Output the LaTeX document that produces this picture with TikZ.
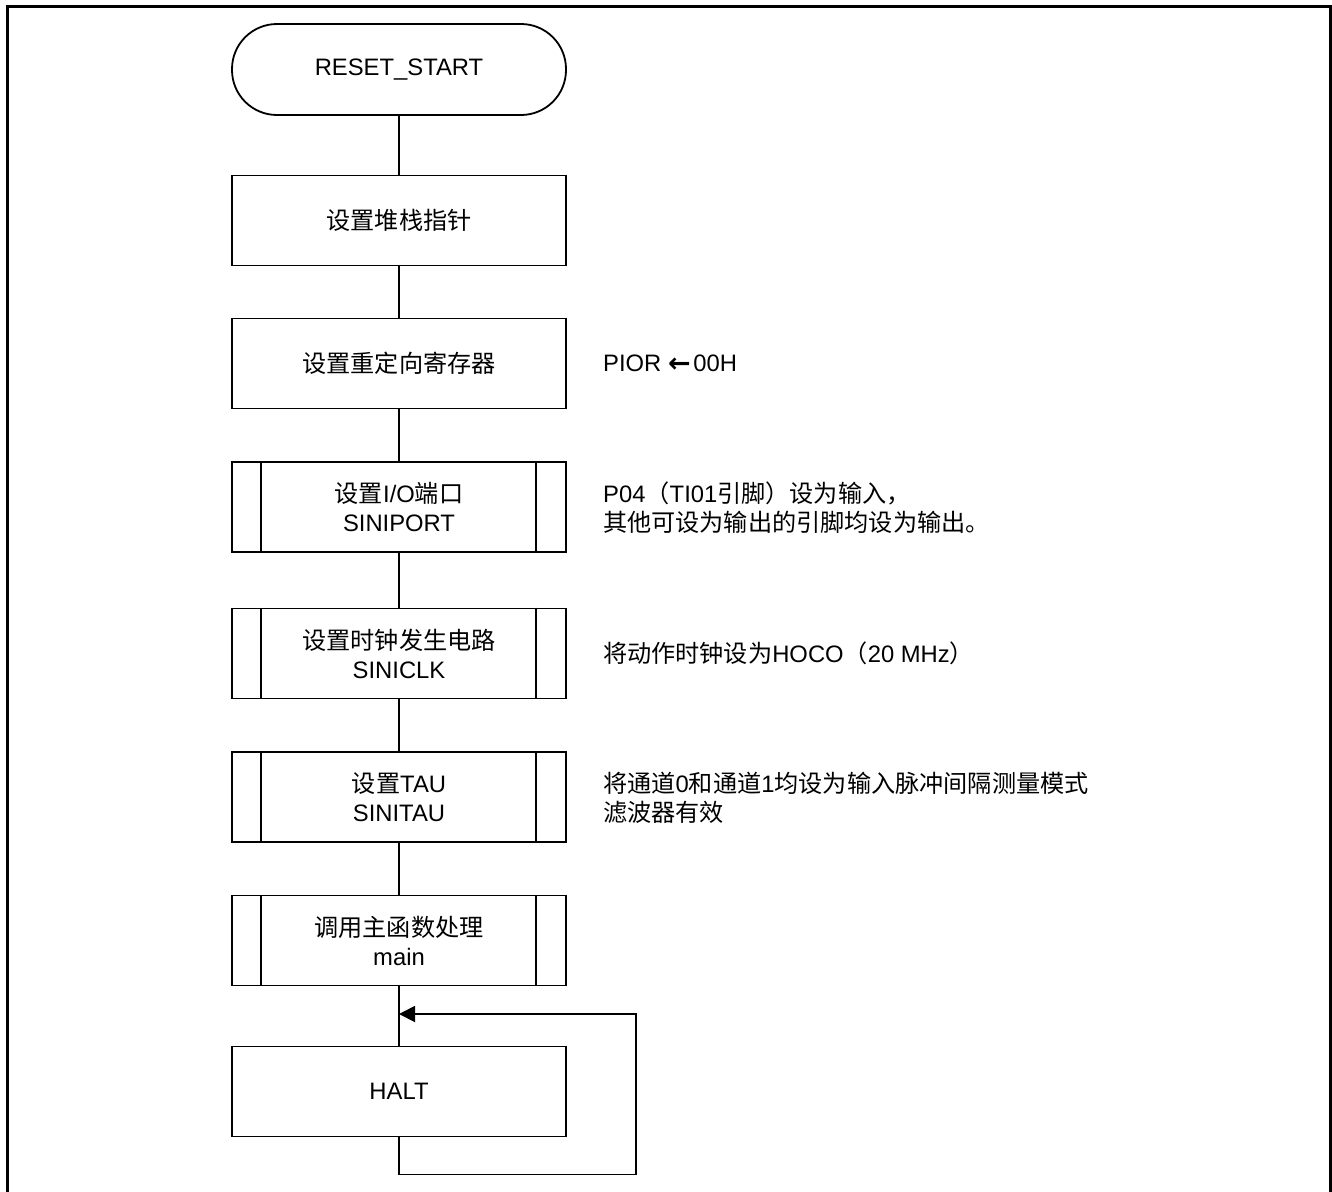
\documentclass[tikz,border=0pt]{standalone}
\usepackage{fontspec}
\setmainfont{Liberation Sans}
\newfontfamily\cjk[Scale=1.015]{Noto Sans CJK SC}
\newfontfamily\arrowfont{DejaVu Sans Bold}
\usetikzlibrary{arrows.meta}
\tikzset{
  boxstyle/.style={draw, line width=1.8pt, minimum width=334pt, minimum height=90pt, align=center, inner sep=0pt},
  termstyle/.style={boxstyle, rounded corners=45pt, minimum height=91pt},
  notestyle/.style={anchor=west, align=left, inner sep=0pt},
  linkstyle/.style={line width=1.8pt},
}
\newcommand{\subbars}[1]{%
  \draw[linkstyle] ([xshift=30pt]#1.north west) -- ([xshift=30pt]#1.south west);
  \draw[linkstyle] ([xshift=-31pt]#1.north east) -- ([xshift=-31pt]#1.south east);}
\begin{document}
\begin{tikzpicture}[x=1pt,y=-1pt,font=\fontsize{23.8}{29}\selectfont]
\useasboundingbox (0,0) rectangle (1332,1191);
\draw[line width=3pt] (7,1200) -- (7,6) -- (1330,6) -- (1330,1200);

\node[termstyle] (start) at (399,69.5) {RESET\_START};
\node[boxstyle] (b1) at (399,220.5) {\cjk 设置堆栈指针};
\node[boxstyle] (b2) at (399,363.5) {\cjk 设置重定向寄存器};
\node[boxstyle] (b3) at (399,507) {{\cjk 设置}I/O{\cjk 端口}\\SINIPORT};
\node[boxstyle] (b4) at (399,653.5) {{\cjk 设置时钟发生电路}\\SINICLK};
\node[boxstyle] (b5) at (399,797) {{\cjk 设置}TAU\\SINITAU};
\node[boxstyle] (b6) at (399,940.5) {{\cjk 调用主函数处理}\\main};
\node[boxstyle] (halt) at (399,1091.5) {HALT};
\subbars{b3}
\subbars{b4}
\subbars{b5}
\subbars{b6}

\node[notestyle] (n2) at (603,364) {PIOR {\arrowfont\fontsize{27}{29}\selectfont\raisebox{-0.04em}{←}}\hspace{0.12em}00H};
\node[notestyle] (n3) at (603,508) {P04{\cjk （}TI01{\cjk 引脚）设为输入，}\\{\cjk 其他可设为输出的引脚均设为输出。}};
\node[notestyle] (n4) at (603,653) {{\cjk 将动作时钟设为}HOCO{\cjk （}20 MHz{\cjk ）}};
\node[notestyle] (n5) at (603,797.5) {{\cjk 将通道}0{\cjk 和通道}1{\cjk 均设为输入脉冲间隔测量模式}\\{\cjk 滤波器有效}};

\draw[linkstyle] (start) -- (b1);
\draw[linkstyle] (b1) -- (b2);
\draw[linkstyle] (b2) -- (b3);
\draw[linkstyle] (b3) -- (b4);
\draw[linkstyle] (b4) -- (b5);
\draw[linkstyle] (b5) -- (b6);
\draw[linkstyle] (b6) -- (halt);
\coordinate (loopr) at (636,1014);
\coordinate (loopin) at (399,1014);
\draw[linkstyle,-{Triangle[length=16pt,width=16pt]}] (halt.south) -- ++(0,37) -| (loopr) -- (loopin);
\end{tikzpicture}
\end{document}
